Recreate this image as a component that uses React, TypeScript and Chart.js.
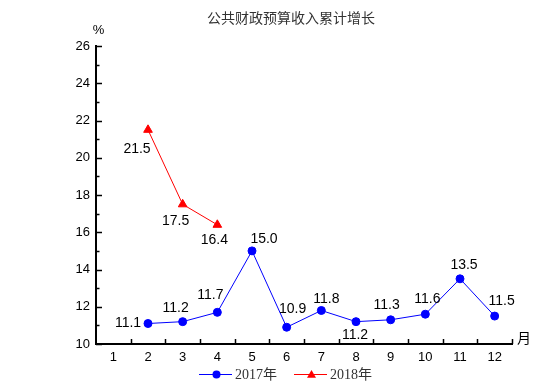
import React, { useEffect, useRef } from "react";
import { Chart, registerables } from "chart.js";

Chart.register(...registerables);

const TITLE = "公共财政预算收入累计增长";
const Y_UNIT = "%";
const X_UNIT = "月";
const MONTHS = [1, 2, 3, 4, 5, 6, 7, 8, 9, 10, 11, 12];
const SERIES_2017_LABEL = "2017年";
const SERIES_2018_LABEL = "2018年";
const MONTHS_2017 = [2, 3, 4, 5, 6, 7, 8, 9, 10, 11, 12];
const VALUES_2017 = [11.1, 11.2, 11.7, 15.0, 10.9, 11.8, 11.2, 11.3, 11.6, 13.5, 11.5];
const MONTHS_2018 = [2, 3, 4];
const VALUES_2018 = [21.5, 17.5, 16.4];
const Y_MIN = 10;
const Y_MAX = 26;
const Y_STEP = 2;

// label placement offsets (dx, dy) relative to each point
const LABEL_OFFSETS_2017 = [
  [-20, 0], [-7, -14], [-7, -17], [12, -12], [6, -18], [5, -11],
  [-1, 13], [-4, -15], [2, -15], [4, -14], [7, -15],
];
const LABEL_OFFSETS_2018 = [[-11, 19], [-7, 17], [-3, 15]];

const SANS = "Arial, 'Liberation Sans', sans-serif";
const CJK = "'Noto Sans CJK SC', sans-serif";
const SERIF = "'Liberation Serif', 'Noto Sans CJK SC', serif";

const decorPlugin = {
  id: "decor",
  afterDatasetsDraw(chart: any) {
    const ctx = chart.ctx;
    const xs = chart.scales.x;
    const ys = chart.scales.y;
    const area = chart.chartArea;
    ctx.save();
    // inward ticks on y axis
    ctx.strokeStyle = "#000";
    ctx.lineWidth = 1.5;
    for (let v = Y_MIN; v <= Y_MAX; v += 1) {
      const py = Math.round(ys.getPixelForValue(v)) + 0.5;
      const len = v % Y_STEP === 0 ? 6 : 3.5;
      ctx.beginPath();
      ctx.moveTo(area.left, py);
      ctx.lineTo(area.left + len, py);
      ctx.stroke();
    }
    // inward ticks on x axis between months
    for (let i = 0; i < MONTHS.length; i++) {
      const px = Math.round(xs.getPixelForValue(MONTHS[i] + 0.5)) + 0.5;
      ctx.beginPath();
      ctx.moveTo(px, area.bottom);
      ctx.lineTo(px, area.bottom - 5);
      ctx.stroke();
    }
    // data labels
    ctx.fillStyle = "#000";
    ctx.font = `14px ${SANS}`;
    ctx.textAlign = "center";
    ctx.textBaseline = "middle";
    const offs = [LABEL_OFFSETS_2017, LABEL_OFFSETS_2018];
    chart.data.datasets.forEach((ds: any, di: number) => {
      const meta = chart.getDatasetMeta(di);
      meta.data.forEach((pt: any, i: number) => {
        const [dx, dy] = offs[di][i];
        ctx.fillText(ds.data[i].y.toFixed(1), pt.x + dx, pt.y + dy);
      });
    });
    // title
    ctx.fillStyle = "#333";
    ctx.font = `14px ${CJK}`;
    ctx.fillText(TITLE, 291, 18);
    // units
    ctx.fillStyle = "#000";
    ctx.font = `13px ${SANS}`;
    ctx.fillText(Y_UNIT, area.left + 2.5, 30);
    ctx.font = `14px ${CJK}`;
    ctx.fillText(X_UNIT, area.right + 12, 338);
    // legend
    const legendY = 374.5;
    const starts = [199, 294];
    chart.data.datasets.forEach((ds: any, di: number) => {
      const x0 = starts[di];
      ctx.strokeStyle = ds.borderColor;
      ctx.lineWidth = 1;
      ctx.beginPath();
      ctx.moveTo(x0, legendY);
      ctx.lineTo(x0 + 33, legendY);
      ctx.stroke();
      ctx.fillStyle = ds.pointBackgroundColor;
      ctx.beginPath();
      const cx = x0 + 17.5;
      if (ds.pointStyle === "triangle") {
        const r = 4.5;
        ctx.moveTo(cx, legendY - r);
        ctx.lineTo(cx + r, legendY + r * 0.7);
        ctx.lineTo(cx - r, legendY + r * 0.7);
        ctx.closePath();
      } else {
        ctx.arc(cx, legendY, 4, 0, Math.PI * 2);
      }
      ctx.fill();
      ctx.fillStyle = "#333";
      ctx.font = `14px ${SERIF}`;
      ctx.textAlign = "left";
      ctx.fillText(ds.label, x0 + 36, legendY + 1);
    });
    ctx.restore();
  },
};

export default function App() {
  const ref = useRef<HTMLCanvasElement>(null);
  useEffect(() => {
    if (!ref.current) return;
    const chart = new Chart(ref.current, {
      type: "line",
      data: {
        datasets: [
          {
            label: SERIES_2017_LABEL,
            data: MONTHS_2017.map((m, i) => ({ x: m, y: VALUES_2017[i] })),
            borderColor: "#0000ff",
            backgroundColor: "#0000ff",
            pointBackgroundColor: "#0000ff",
            pointBorderColor: "#0000ff",
            pointStyle: "circle",
            pointRadius: 4,
            borderWidth: 1,
            tension: 0,
          },
          {
            label: SERIES_2018_LABEL,
            data: MONTHS_2018.map((m, i) => ({ x: m, y: VALUES_2018[i] })),
            borderColor: "#ff0000",
            backgroundColor: "#ff0000",
            pointBackgroundColor: "#ff0000",
            pointBorderColor: "#ff0000",
            pointStyle: "triangle",
            pointRadius: 5,
            borderWidth: 1,
            tension: 0,
          },
        ],
      },
      plugins: [decorPlugin],
      options: {
        animation: false,
        responsive: false,
        events: [],
        layout: { padding: { left: 0, top: 46, right: 40, bottom: 0 } },
        plugins: { legend: { display: false }, title: { display: false }, tooltip: { enabled: false } },
        scales: {
          x: {
            type: "linear",
            min: 0.5,
            max: 12.5,
            afterBuildTicks: (s: any) => {
              s.ticks = MONTHS.map((v) => ({ value: v }));
            },
            afterFit: (s: any) => {
              s.height = 46;
            },
            grid: { display: false, drawTicks: false },
            border: { display: true, color: "#000", width: 2 },
            ticks: {
              color: "#000",
              font: { family: SANS, size: 13 },
              padding: 6,
              autoSkip: false,
              maxRotation: 0,
              callback: (v: any) => String(v),
            },
          },
          y: {
            min: Y_MIN,
            max: Y_MAX,
            afterFit: (s: any) => {
              s.width = 96;
            },
            grid: { display: false, drawTicks: false },
            border: { display: true, color: "#000", width: 2 },
            ticks: {
              stepSize: Y_STEP,
              color: "#000",
              font: { family: SANS, size: 13 },
              padding: 6,
            },
          },
        },
      },
    });
    return () => chart.destroy();
  }, []);
  return (
    <div style={{ position: "fixed", left: 0, top: 0, width: 552, height: 390, background: "#fff" }}>
      <canvas ref={ref} width={552} height={390} />
    </div>
  );
}
